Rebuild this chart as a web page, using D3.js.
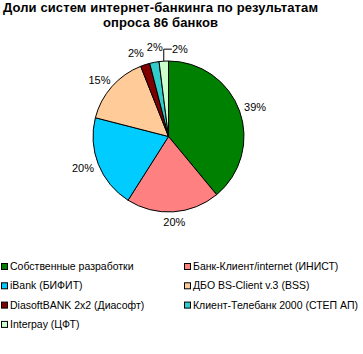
<!DOCTYPE html>
<html>
<head>
<meta charset="utf-8">
<script src="https://cdn.jsdelivr.net/npm/d3@7"></script>
<style>
  body { margin: 0; background: #fff; }
  text { font-family: Arial, "Liberation Sans", sans-serif; }
</style>
</head>
<body>
<div id="chart"></div>
<script>
// Chart data
const titleLines = ["Доли систем интернет-банкинга по результатам", "опроса 86 банков"];
const categories = [
    "Собственные разработки",
    "Банк-Клиент/internet (ИНИСТ)",
    "iBank (БИФИТ)",
    "ДБО BS-Client v.3 (BSS)",
    "DiasoftBANK 2x2 (Диасофт)",
    "Клиент-Телебанк 2000 (СТЕП АП)",
    "Interpay (ЦФТ)"
];
const shares = [39, 20, 20, 15, 2, 2, 2];
const colors = ["#008000", "#ff8080", "#00ccff", "#ffcc99", "#800000", "#33cccc", "#ccffcc"];

function init() {
    const w = 363, h = 354;
    const cx = 168.5, cy = 136.5, r = 75.5;
    const gap = 6; // label distance from the pie edge
    // nudges for the crowded small labels at the top (px)
    const nudges = [[0, 0], [0, 0], [0, 0], [0, 0], [-5, -2], [3, -5], [17, -2]];

    const data = categories.map((c, i) => ({ name: c, value: shares[i], color: colors[i], i: i }));

    const svg = d3.select("#chart").append("svg")
        .attr("width", w)
        .attr("height", h);

    // Title
    const titleWidths = [315, 115];
    svg.append("g").selectAll("text")
        .data(titleLines)
        .enter()
        .append("text")
        .attr("x", 160.5)
        .attr("y", (d, i) => 12 + i * 15)
        .attr("text-anchor", "middle")
        .attr("font-size", "13px")
        .attr("font-weight", "bold")
        .attr("textLength", (d, i) => titleWidths[i])
        .attr("lengthAdjust", "spacing")
        .text(d => d);

    const pie = d3.pie().sort(null).value(d => d.value);
    const arcs = pie(data);
    const arc = d3.arc().innerRadius(0).outerRadius(r);

    const g = svg.append("g").attr("transform", `translate(${cx},${cy})`);

    g.selectAll("path")
        .data(arcs)
        .enter()
        .append("path")
        .attr("d", arc)
        .attr("fill", d => d.data.color)
        .attr("stroke", "#000")
        .attr("stroke-width", 1);

    // Labels
    const labelPos = d => {
        const a = (d.startAngle + d.endAngle) / 2;
        const s = Math.sin(a), c = Math.cos(a);
        const halfW = String(d.data.value).length > 1 ? 10.5 : 8;
        const n = nudges[d.data.i];
        return [(r + gap) * s + halfW * s + n[0], -(r + gap) * c - 4 * c + n[1]];
    };

    g.selectAll("text.lbl")
        .data(arcs)
        .enter()
        .append("text")
        .attr("class", "lbl")
        .attr("x", d => labelPos(d)[0])
        .attr("y", d => labelPos(d)[1])
        .attr("dy", "0.35em")
        .attr("text-anchor", "middle")
        .attr("font-size", "11px")
        .text(d => d.value + "%");

    // Leader line for the last slice
    const last = arcs[arcs.length - 1];
    const la = (last.startAngle + last.endAngle) / 2;
    const ex = r * Math.sin(la), ey = -r * Math.cos(la);
    const lp = labelPos(last);
    g.append("path")
        .attr("d", `M${ex},${ey}V${lp[1]}H${lp[0] - 8}`)
        .attr("fill", "none")
        .attr("stroke", "#000")
        .attr("stroke-width", 1);

    // Legend
    const legend = svg.append("g");
    const rows = legend.selectAll("g")
        .data(data)
        .enter()
        .append("g")
        .attr("transform", (d, i) => `translate(${i % 2 === 0 ? 1.5 : 184.5},${263.5 + Math.floor(i / 2) * 19.3})`);

    rows.append("rect")
        .attr("width", 6)
        .attr("height", 6)
        .attr("fill", d => d.color)
        .attr("stroke", "#000")
        .attr("stroke-width", 1);

    rows.append("text")
        .attr("x", 8.5)
        .attr("y", 3)
        .attr("dy", "0.35em")
        .attr("font-size", "10.5px")
        .text(d => d.name);
}

window.onload = init;
</script>
</body>
</html>
